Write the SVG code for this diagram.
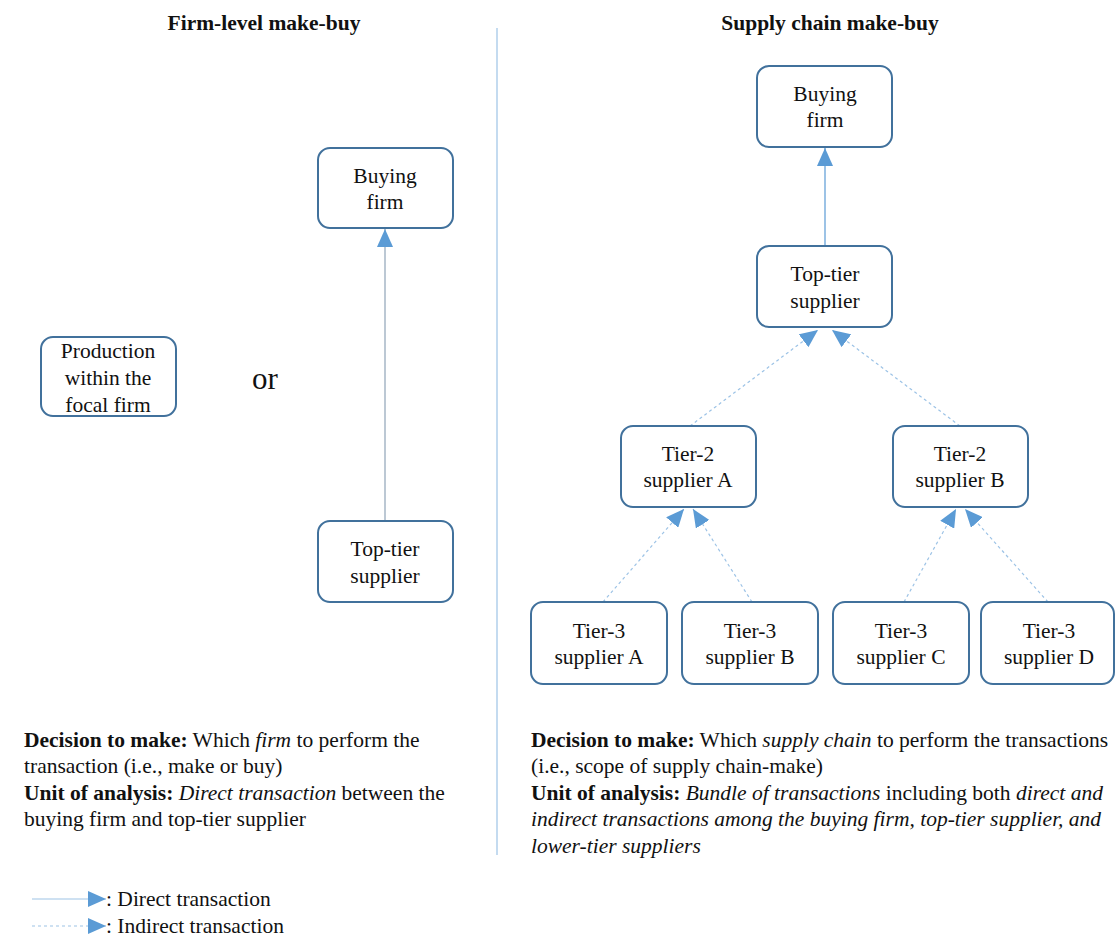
<svg xmlns="http://www.w3.org/2000/svg" width="1115" height="936" viewBox="0 0 1115 936">
<style>
text{font-family:'Liberation Serif','Times New Roman',serif;font-size:21.5px;fill:#111}
.n{text-anchor:middle}
.box{fill:#fff;stroke:#41719C;stroke-width:2}
.solid{stroke:#5B9BD5;stroke-width:1.2;fill:none}
.dash{stroke:#9DC3E6;stroke-width:1.2;stroke-dasharray:3,3;fill:none}
.b{font-weight:bold}
.i{font-style:italic}
</style>
<defs>
<marker id="ah" viewBox="0 0 18 16" refX="18" refY="8" markerWidth="18" markerHeight="16" markerUnits="userSpaceOnUse" orient="auto">
<path d="M0,0 L18,8 L0,16 z" fill="#5B9BD5"/>
</marker>
</defs>
<rect width="1115" height="936" fill="#fff"/>
<text class="n b" x="264" y="30">Firm-level make-buy</text>
<text class="n b" x="830" y="30">Supply chain make-buy</text>
<line x1="497" y1="28" x2="497" y2="855" stroke="#9DC3E6" stroke-width="1.2"/>
<text x="252" y="389" style="font-size:31px">or</text>
<g id="connectors">
<line class="solid" x1="385" y1="521" x2="385" y2="229" style="stroke:#8FA3B8" marker-end="url(#ah)"/>
<line class="solid" x1="825" y1="246" x2="825" y2="148" marker-end="url(#ah)"/>
<line class="dash" x1="690" y1="426" x2="818" y2="330" marker-end="url(#ah)"/>
<line class="dash" x1="960" y1="426" x2="832" y2="330" marker-end="url(#ah)"/>
<line class="dash" x1="603" y1="602" x2="684" y2="509" marker-end="url(#ah)"/>
<line class="dash" x1="752" y1="602" x2="693" y2="509" marker-end="url(#ah)"/>
<line class="dash" x1="904" y1="602" x2="956" y2="509" marker-end="url(#ah)"/>
<line class="dash" x1="1048" y1="602" x2="965" y2="509" marker-end="url(#ah)"/>
</g>
<g id="production">
<rect class="box" x="41" y="337" width="135" height="79" rx="12"/>
<text class="n" x="108" y="358">Production</text>
<text class="n" x="108" y="385">within the</text>
<text class="n" x="108" y="412">focal firm</text>
</g>
<g id="buying-left">
<rect class="box" x="318" y="148" width="135" height="80" rx="12"/>
<text class="n" x="385" y="183">Buying</text>
<text class="n" x="385" y="209">firm</text>
</g>
<g id="toptier-left">
<rect class="box" x="318" y="521" width="135" height="81" rx="12"/>
<text class="n" x="385" y="556">Top-tier</text>
<text class="n" x="385" y="583">supplier</text>
</g>
<g id="buying-right">
<rect class="box" x="757" y="66" width="135" height="81" rx="12"/>
<text class="n" x="825" y="101">Buying</text>
<text class="n" x="825" y="127">firm</text>
</g>
<g id="toptier-right">
<rect class="box" x="757" y="246" width="135" height="81" rx="12"/>
<text class="n" x="825" y="281">Top-tier</text>
<text class="n" x="825" y="308">supplier</text>
</g>
<g id="tier2a">
<rect class="box" x="621" y="426" width="135" height="81" rx="12"/>
<text class="n" x="688" y="461">Tier-2</text>
<text class="n" x="688" y="487">supplier A</text>
</g>
<g id="tier2b">
<rect class="box" x="893" y="426" width="135" height="81" rx="12"/>
<text class="n" x="960" y="461">Tier-2</text>
<text class="n" x="960" y="487">supplier B</text>
</g>
<g id="tier3a">
<rect class="box" x="531" y="602" width="136" height="82" rx="12"/>
<text class="n" x="599" y="638">Tier-3</text>
<text class="n" x="599" y="664">supplier A</text>
</g>
<g id="tier3b">
<rect class="box" x="682" y="602" width="136" height="82" rx="12"/>
<text class="n" x="750" y="638">Tier-3</text>
<text class="n" x="750" y="664">supplier B</text>
</g>
<g id="tier3c">
<rect class="box" x="833" y="602" width="136" height="82" rx="12"/>
<text class="n" x="901" y="638">Tier-3</text>
<text class="n" x="901" y="664">supplier C</text>
</g>
<g id="tier3d">
<rect class="box" x="981" y="602" width="133" height="82" rx="12"/>
<text class="n" x="1049" y="638">Tier-3</text>
<text class="n" x="1049" y="664">supplier D</text>
</g>
<g id="left-notes">
<text x="24" y="747"><tspan class="b">Decision to make:</tspan> Which <tspan class="i">firm</tspan> to perform the</text>
<text x="24" y="773">transaction (i.e., make or buy)</text>
<text x="24" y="800"><tspan class="b">Unit of analysis:</tspan> <tspan class="i">Direct transaction</tspan> between the</text>
<text x="24" y="826">buying firm and top-tier supplier</text>
</g>
<g id="right-notes">
<text x="531" y="747"><tspan class="b">Decision to make:</tspan> Which <tspan class="i">supply chain</tspan> to perform the transactions</text>
<text x="531" y="773">(i.e., scope of supply chain-make)</text>
<text x="531" y="800"><tspan class="b">Unit of analysis:</tspan> <tspan class="i">Bundle of transactions</tspan> including both <tspan class="i">direct and</tspan></text>
<text x="531" y="826" class="i">indirect transactions among the buying firm, top-tier supplier, and</text>
<text x="531" y="853" class="i">lower-tier suppliers</text>
</g>
<g id="legend">
<line class="solid" x1="32" y1="899" x2="106" y2="899" style="stroke:#9DC3E6" marker-end="url(#ah)"/>
<text x="106" y="906">: Direct transaction</text>
<line class="dash" x1="32" y1="926" x2="106" y2="926" marker-end="url(#ah)"/>
<text x="106" y="933">: Indirect transaction</text>
</g>
</svg>
